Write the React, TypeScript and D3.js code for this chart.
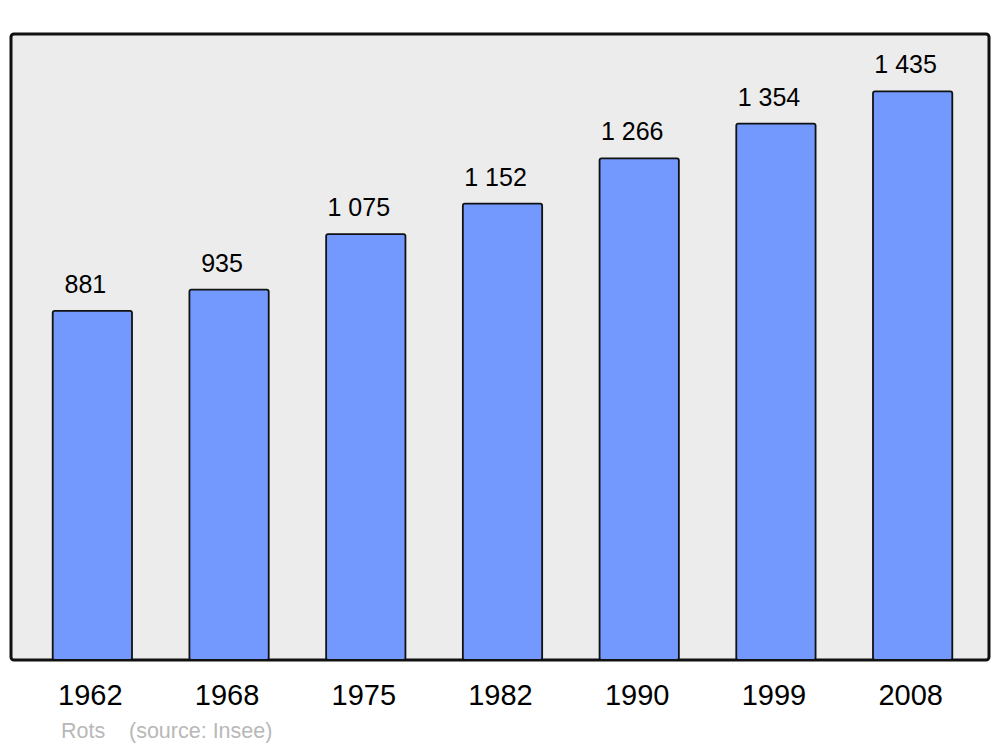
import React from "react";
import * as d3 from "d3";

const years = ["1962", "1968", "1975", "1982", "1990", "1999", "2008"];
const population = [881, 935, 1075, 1152, 1266, 1354, 1435];
const commune = "Rots";
const source = "(source: Insee)";

const width = 1000;
const height = 747;
const frame = { left: 11, top: 34, right: 989, bottom: 660 };

// french style thousands: "1 435"
const fmt = (v: number) => d3.format(",")(v).replace(/,/g, " ");

export default function App() {
  const x = d3
    .scaleBand<string>()
    .domain(years)
    .range([24, 981])
    .paddingInner(0.42)
    .paddingOuter(0.21);

  const y = d3.scaleLinear().domain([0, 1580]).range([frame.bottom, frame.top]);

  return (
    <svg
      width={width}
      height={height}
      style={{ position: "absolute", left: 0, top: 0, fontFamily: "Liberation Sans, Arial, sans-serif" }}
    >
      <rect x={0} y={0} width={width} height={height} fill="#ffffff" />
      <rect
        x={frame.left}
        y={frame.top}
        width={frame.right - frame.left}
        height={frame.bottom - frame.top}
        rx={3}
        fill="#ececec"
        stroke="#111"
        strokeWidth={3}
      />
      {years.map((yr, i) => {
        const v = population[i];
        const bx = x(yr)!;
        const cx = bx + x.bandwidth() / 2;
        const top = y(v);
        return (
          <g key={yr}>
            <rect
              x={bx}
              y={top}
              width={x.bandwidth()}
              height={frame.bottom - top}
              rx={2}
              fill="#7399ff"
              stroke="#111"
              strokeWidth={1.8}
            />
            <text x={cx - 7} y={top - 18} textAnchor="middle" fontSize={25} fill="#000">
              {fmt(v)}
            </text>
            <text x={cx - 2} y={705} textAnchor="middle" fontSize={29} fill="#000">
              {yr}
            </text>
          </g>
        );
      })}
      <text x={61} y={738} fontSize={21.5} fill="#b8b8b8">
        {commune}
      </text>
      <text x={129} y={738} fontSize={21.5} fill="#b8b8b8">
        {source}
      </text>
    </svg>
  );
}
